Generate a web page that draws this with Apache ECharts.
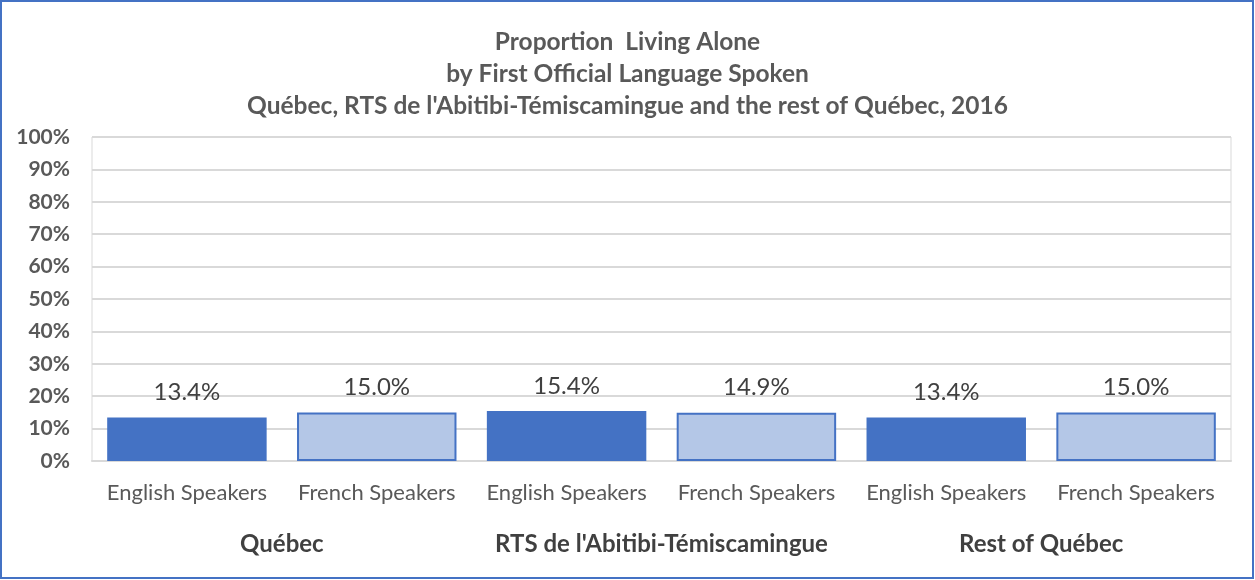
<!DOCTYPE html>
<html><head><meta charset="utf-8">
<script src="https://cdn.jsdelivr.net/npm/echarts@6/dist/echarts.min.js"></script>
<style>html,body{margin:0;padding:0;background:#fff}#c{width:1255px;height:580px}</style>
</head><body><div id="c"></div>
<script>
const titleLines = ["Proportion  Living Alone", "by First Official Language Spoken", "Québec, RTS de l'Abitibi-Témiscamingue and the rest of Québec, 2016"];
const languages = ["English Speakers", "French Speakers", "English Speakers", "French Speakers", "English Speakers", "French Speakers"];
const regions = ["Québec", "RTS de l'Abitibi-Témiscamingue", "Rest of Québec"];
const values = [13.4, 15.0, 15.4, 14.9, 13.4, 15.0];
const yTicks = [0, 10, 20, 30, 40, 50, 60, 70, 80, 90, 100];

const FONT = "Lato, 'Open Sans', sans-serif";
const colors = ["#4472C4", "#B4C7E7"];
const chart = echarts.init(document.getElementById('c'));
chart.setOption({
  animation: false,
  title: {
    text: titleLines.join('\n'),
    left: 'center', top: 21,
    textStyle: { fontFamily: FONT, fontSize: 24.5, fontWeight: 'bold', color: '#595959', lineHeight: 32 }
  },
  graphic: [{ type: 'rect', shape: { x: 1, y: 1, width: 1252, height: 577 }, style: { fill: 'none', stroke: '#4472C4', lineWidth: 2 }, silent: true }],
  grid: { left: 92, right: 24, top: 137, bottom: 119, show: true, borderColor: '#d9d9d9', borderWidth: 1 },
  xAxis: [
    { type: 'category', data: languages, position: 'bottom',
      axisLine: { lineStyle: { color: '#d9d9d9', width: 2 } }, axisTick: { show: false },
      axisLabel: { interval: 0, hideOverlap: false, fontFamily: FONT, fontSize: 22, color: '#595959', margin: 21 } },
    { type: 'category', data: regions, position: 'bottom', offset: 60,
      axisLine: { show: false }, axisTick: { show: false },
      axisLabel: { interval: 0, hideOverlap: false, fontFamily: FONT, fontSize: 24, fontWeight: 'bold', color: '#404040', margin: 11 } }
  ],
  yAxis: {
    type: 'value', min: 0, max: 100, interval: 10,
    axisLine: { show: false }, axisTick: { show: false },
    splitLine: { lineStyle: { color: '#d9d9d9', width: 2 } },
    axisLabel: { fontFamily: FONT, fontSize: 21, fontWeight: 'bold', color: '#595959', margin: 22,
      formatter: v => yTicks.includes(v) ? v + '%' : '' }
  },
  series: [{
    type: 'bar', xAxisIndex: 0, barCategoryGap: '16%',
    data: values.map((v, i) => ({ value: v, itemStyle: { color: colors[i % 2], borderColor: '#4472C4', borderWidth: i % 2 ? 2 : 0 } })),
    label: { show: true, position: 'top', distance: 13, fontFamily: FONT, fontSize: 24, color: '#404040',
      formatter: p => p.value.toFixed(1) + '%' }
  }]
});
</script></body></html>
